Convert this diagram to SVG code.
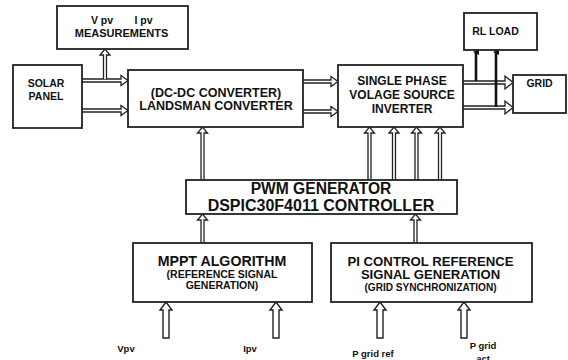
<svg xmlns="http://www.w3.org/2000/svg" width="568" height="360" viewBox="0 0 568 360">
<style>
.box{fill:#fff;stroke:#222;stroke-width:1.8}
.t{font-family:"Liberation Sans",Arial,sans-serif;font-weight:bold;fill:#111;text-anchor:middle}
.dl{fill:#fff;stroke:#222;stroke-width:1.3;stroke-linejoin:miter}
.ho{fill:#fff;stroke:#222;stroke-width:1.4}
.th{stroke:#111;stroke-width:2.6;fill:none}
</style>
<defs>
<marker id="ah" markerWidth="6" markerHeight="6" refX="3" refY="3" orient="auto" markerUnits="userSpaceOnUse">
<path d="M0,6 L3,0 L6,6 Z" fill="#111"/>
</marker>
</defs>
<rect width="568" height="360" fill="#fff"/>

<g id="connectors">
<!-- solar -> dcdc -->
<path class="dl" d="M82,79 H121 V75.5 L128,80.5 L121,85.5 V82 H82"/>
<path class="dl" d="M82,109 H121 V105.5 L128,110.5 L121,115.5 V112 H82"/>
<!-- to measurements -->
<path class="dl" d="M103.5,79 V55 H100 L105,49 L110,55 H106.5 V79"/>
<!-- dcdc -> inverter -->
<path class="dl" d="M303,80 H331 V76.5 L338,81.5 L331,86.5 V83 H303"/>
<path class="dl" d="M303,110 H331 V106.5 L338,111.5 L331,116.5 V113 H303"/>
<!-- inverter -> grid -->
<path class="dl" d="M463,81 H505 V76 L513,82.5 L505,89 V84 H463"/>
<path class="dl" d="M463,106 H505 V101 L513,107.5 L505,114 V109 H463"/>
<!-- to RL load -->
<line class="th" x1="476" y1="81" x2="476" y2="52" marker-end="url(#ah)"/>
<line class="th" x1="496" y1="107" x2="496" y2="52" marker-end="url(#ah)"/>
<!-- pwm -> dcdc -->
<path class="dl" d="M201,180 V133 H197.5 L202.5,127 L207.5,133 H204 V180"/>
<!-- mppt -> pwm -->
<path class="dl" d="M201,243 V220 H197.5 L202.5,214 L207.5,220 H204 V243"/>
<!-- pwm -> inverter -->
<path class="dl" d="M368,180 V133 H364.5 L369.5,127 L374.5,133 H371 V180"/>
<path class="dl" d="M392.5,180 V133 H389 L394,127 L399,133 H395.5 V180"/>
<path class="dl" d="M415,180 V133 H411.5 L416.5,127 L421.5,133 H418 V180"/>
<path class="dl" d="M438.5,180 V133 H435 L440,127 L445,133 H441.5 V180"/>
<!-- pi -> pwm -->
<path class="dl" d="M414,243 V220 H410.5 L415.5,214 L420.5,220 H417 V243"/>
<!-- hollow input arrows -->
<path class="ho" d="M163,338 V310 H160 L166,302 L172,310 H169 V338 Z"/>
<path class="ho" d="M273,338 V310 H270 L276,302 L282,310 H279 V338 Z"/>
<path class="ho" d="M377,338 V310 H374 L380,302 L386,310 H383 V338 Z"/>
<path class="ho" d="M461,338 V310 H458 L464,302 L470,310 H467 V338 Z"/>
</g>

<g id="measurements">
<rect class="box" x="57" y="6" width="131" height="43"/>
<text class="t" x="102" y="24" font-size="10.5">V pv</text>
<text class="t" x="143.5" y="24" font-size="10.5">I pv</text>
<text class="t" x="121.5" y="37" font-size="11">MEASUREMENTS</text>
</g>

<g id="solar">
<rect class="box" x="13" y="65" width="69" height="63"/>
<text class="t" x="46" y="87" font-size="10.5">SOLAR</text>
<text class="t" x="46" y="100" font-size="10.5">PANEL</text>
</g>

<g id="dcdc">
<rect class="box" x="128" y="70" width="175" height="57"/>
<text class="t" x="216" y="97" font-size="12.5">(DC-DC CONVERTER)</text>
<text class="t" x="216" y="110" font-size="12.5">LANDSMAN CONVERTER</text>
</g>

<g id="inverter">
<rect class="box" x="338" y="65" width="125" height="62"/>
<text class="t" x="402" y="85" font-size="12">SINGLE PHASE</text>
<text class="t" x="402" y="99" font-size="12">VOLAGE SOURCE</text>
<text class="t" x="402" y="113" font-size="12">INVERTER</text>
</g>

<g id="rlload">
<rect class="box" x="464" y="13" width="73" height="37"/>
<text class="t" x="495.5" y="35" font-size="10.5">RL LOAD</text>
</g>

<g id="grid">
<rect class="box" x="513" y="75" width="53" height="38"/>
<text class="t" x="539.5" y="87" font-size="10.5">GRID</text>
</g>

<g id="pwm">
<rect class="box" x="186" y="180" width="271" height="34"/>
<text class="t" x="321" y="194" font-size="15.6">PWM GENERATOR</text>
<text class="t" x="321" y="211" font-size="16">DSPIC30F4011 CONTROLLER</text>
</g>

<g id="mppt">
<rect class="box" x="133" y="243" width="179" height="59"/>
<text class="t" x="222" y="266" font-size="14.2">MPPT ALGORITHM</text>
<text class="t" x="222" y="278" font-size="10.5">(REFERENCE SIGNAL</text>
<text class="t" x="222" y="289" font-size="10.5">GENERATION)</text>
</g>

<g id="pi">
<rect class="box" x="331" y="243" width="201" height="59"/>
<text class="t" x="430.5" y="266" font-size="13.2">PI CONTROL REFERENCE</text>
<text class="t" x="430.5" y="279" font-size="13.1">SIGNAL GENERATION</text>
<text class="t" x="430.5" y="291" font-size="10.1">(GRID SYNCHRONIZATION)</text>
</g>

<g id="labels">
<text class="t" x="126" y="352" font-size="9.5">Vpv</text>
<text class="t" x="250" y="352" font-size="9.5">Ipv</text>
<text class="t" x="373" y="357" font-size="9.5">P grid ref</text>
<text class="t" x="483" y="349" font-size="9.5">P grid</text>
<text class="t" x="483" y="362" font-size="9.5">act</text>
</g>
</svg>
